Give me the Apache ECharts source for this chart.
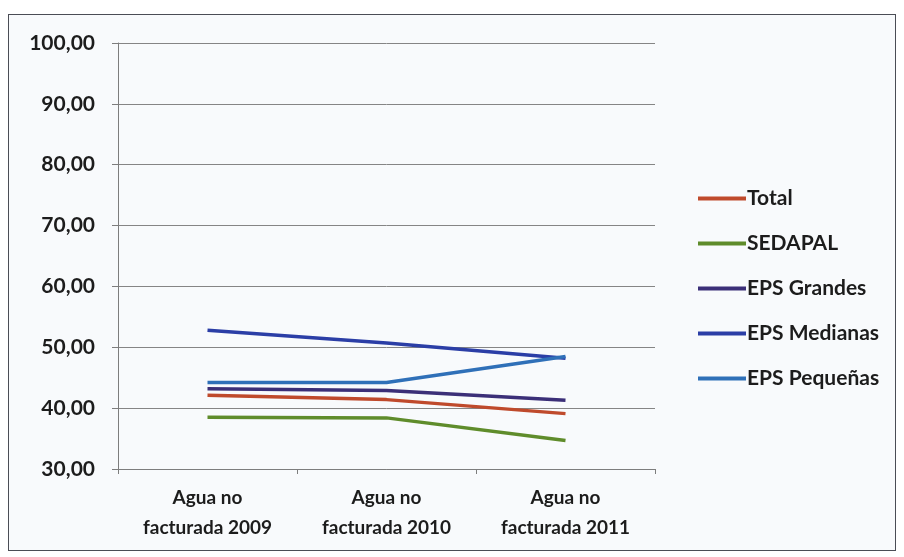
<!DOCTYPE html>
<html>
<head>
<meta charset="utf-8">
<script src="https://cdn.jsdelivr.net/npm/echarts@6/dist/echarts.min.js"></script>
<style>
  html, body { margin: 0; padding: 0; background: #ffffff; }
  #frame { position: absolute; left: 8px; top: 14px; width: 888px; height: 537px;
           border: 1.5px solid #4a4d55; background: #f8fafc; box-sizing: border-box; }
  #chart { position: absolute; left: 0; top: 0; width: 904px; height: 557px; }
</style>
</head>
<body>
<div id="frame"></div>
<div id="chart"></div>
<script>
// Agua no facturada por grupo de EPS (%)
const categories = ['Agua no\nfacturada 2009', 'Agua no\nfacturada 2010', 'Agua no\nfacturada 2011'];
const seriesNames = ['Total', 'SEDAPAL', 'EPS Grandes', 'EPS Medianas', 'EPS Pequeñas'];
const total = [42.1, 41.4, 39.1];
const sedapal = [38.5, 38.4, 34.7];
const epsGrandes = [43.2, 42.9, 41.3];
const epsMedianas = [52.8, 50.7, 48.2];
const epsPequenas = [44.2, 44.2, 48.5];
const yTicks = { min: 30, max: 100, step: 10 };

const colors = ['#bf4a2c', '#5f8c2b', '#3b2f78', '#2b3ea6', '#2f70b8'];
const values = [total, sedapal, epsGrandes, epsMedianas, epsPequenas];
const font = 'Lato, "Open Sans", sans-serif';
const textColor = '#1c1c1c';

const chart = echarts.init(document.getElementById('chart'), null, { renderer: 'canvas' });
chart.setOption({
  backgroundColor: 'transparent',
  animation: false,
  color: colors,
  grid: { left: 118, right: 249, top: 43, bottom: 88 },
  legend: {
    orient: 'vertical',
    left: 693,
    top: 183,
    itemGap: 24,
    itemWidth: 48,
    itemHeight: 4,
    icon: 'rect',
    textStyle: { fontFamily: font, fontSize: 21, fontWeight: 'bold', color: textColor, padding: [0, 0, 0, -4] },
    data: seriesNames
  },
  xAxis: {
    type: 'category',
    data: categories,
    boundaryGap: true,
    axisLine: { lineStyle: { color: '#7d7d7d', width: 1 } },
    axisTick: { show: true, length: 5, lineStyle: { color: '#7d7d7d' } },
    axisLabel: { fontFamily: font, fontSize: 19, fontWeight: 'bold', color: textColor, lineHeight: 30, margin: 14 }
  },
  yAxis: {
    type: 'value',
    min: yTicks.min,
    max: yTicks.max,
    interval: yTicks.step,
    axisLine: { show: true, lineStyle: { color: '#7d7d7d', width: 1 } },
    axisTick: { show: true, length: 6, lineStyle: { color: '#7d7d7d' } },
    splitLine: { lineStyle: { color: '#858585', width: 1 } },
    axisLabel: {
      fontFamily: font, fontSize: 21, fontWeight: 'bold', color: textColor, margin: 23,
      formatter: v => v.toFixed(2).replace('.', ',')
    }
  },
  series: seriesNames.map((name, i) => ({
    name,
    type: 'line',
    data: values[i],
    symbol: 'none',
    lineStyle: { width: 3.5, color: colors[i] },
    itemStyle: { color: colors[i] }
  }))
});
</script>
</body>
</html>
